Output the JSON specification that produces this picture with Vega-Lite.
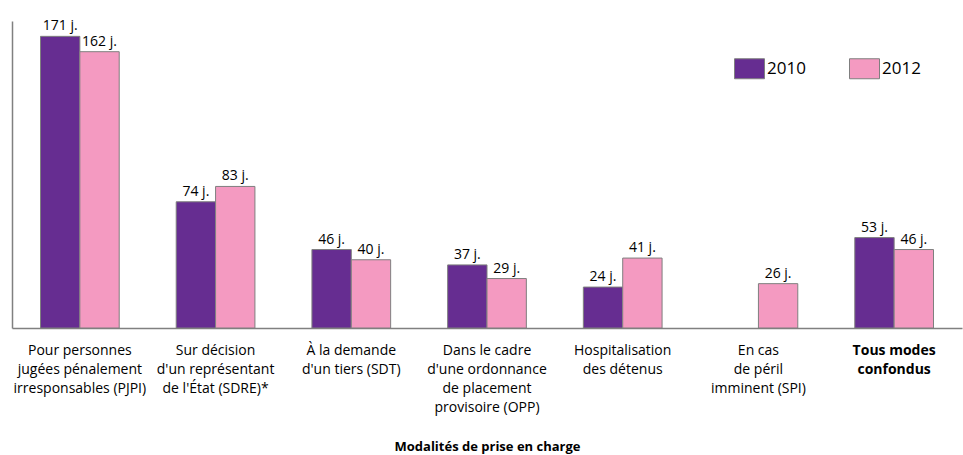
{
  "$schema": "https://vega.github.io/schema/vega-lite/v6.json",
  "width": 950,
  "height": 307,
  "autosize": {"type": "none"},
  "padding": {"left": 12, "top": 21, "right": 1, "bottom": 127},
  "background": "white",
  "config": {
    "view": {"stroke": null},
    "font": "Open Sans",
    "text": {"font": "Open Sans"}
  },
  "data": {
    "values": [
      {"cat": "Pour personnes|jugées pénalement|irresponsables (PJPI)", "year": "2010", "value": 171, "label": "171 j."},
      {"cat": "Pour personnes|jugées pénalement|irresponsables (PJPI)", "year": "2012", "value": 162, "label": "162 j."},
      {"cat": "Sur décision|d'un représentant|de l'État (SDRE)*", "year": "2010", "value": 74, "label": "74 j."},
      {"cat": "Sur décision|d'un représentant|de l'État (SDRE)*", "year": "2012", "value": 83, "label": "83 j."},
      {"cat": "À la demande|d'un tiers (SDT)", "year": "2010", "value": 46, "label": "46 j."},
      {"cat": "À la demande|d'un tiers (SDT)", "year": "2012", "value": 40, "label": "40 j."},
      {"cat": "Dans le cadre|d'une ordonnance|de placement|provisoire (OPP)", "year": "2010", "value": 37, "label": "37 j."},
      {"cat": "Dans le cadre|d'une ordonnance|de placement|provisoire (OPP)", "year": "2012", "value": 29, "label": "29 j."},
      {"cat": "Hospitalisation|des détenus", "year": "2010", "value": 24, "label": "24 j."},
      {"cat": "Hospitalisation|des détenus", "year": "2012", "value": 41, "label": "41 j."},
      {"cat": "En cas|de péril|imminent (SPI)", "year": "2012", "value": 26, "label": "26 j."},
      {"cat": "Tous modes|confondus", "year": "2010", "value": 53, "label": "53 j."},
      {"cat": "Tous modes|confondus", "year": "2012", "value": 46, "label": "46 j."}
    ]
  },
  "encoding": {
    "x": {
      "field": "cat",
      "type": "nominal",
      "sort": null,
      "scale": {"paddingInner": 0.42, "paddingOuter": 0.21},
      "axis": {
        "title": "Modalités de prise en charge",
        "titleFont": "Open Sans",
        "titleFontSize": 13,
        "titleFontWeight": "bold",
        "titleColor": "black",
        "titlePadding": 26,
        "labelExpr": "split(datum.label, '|')",
        "labelAngle": 0,
        "labelFont": "Open Sans",
        "labelFontSize": 14,
        "labelLineHeight": 19,
        "labelColor": "black",
        "labelPadding": 15,
        "labelFontWeight": {"condition": {"test": "datum.value == 'Tous modes|confondus'", "value": "bold"}, "value": "normal"},
        "ticks": false,
        "domainColor": "#808080",
        "domainWidth": 1.5
      }
    },
    "xOffset": {"field": "year", "type": "nominal", "scale": {"domain": ["2010", "2012"]}},
    "y": {
      "field": "value",
      "type": "quantitative",
      "scale": {"domain": [0, 180], "nice": false},
      "axis": {"title": null, "labels": false, "ticks": false, "grid": false, "domainColor": "#808080", "domainWidth": 1.5}
    }
  },
  "layer": [
    {
      "mark": {"type": "bar", "stroke": "#7f7f7f", "strokeWidth": 1},
      "encoding": {
        "color": {
          "field": "year",
          "type": "nominal",
          "scale": {"domain": ["2010", "2012"], "range": ["#662d91", "#f49ac1"]},
          "legend": {
            "title": null,
            "orient": "none",
            "legendX": 727,
            "legendY": 37,
            "direction": "horizontal",
            "symbolType": "M-1.5,-1H1.5V1H-1.5Z",
            "symbolSize": 400,
            "symbolStrokeColor": "#7f7f7f",
            "symbolStrokeWidth": 1,
            "labelFont": "Open Sans",
            "labelFontSize": 17,
            "labelColor": "black",
            "labelOffset": 7,
            "columnPadding": 41
          }
        }
      }
    },
    {
      "mark": {"type": "text", "baseline": "bottom", "dy": -3, "fontSize": 14, "color": "black", "font": "Open Sans"},
      "encoding": {"text": {"field": "label"}}
    }
  ]
}
